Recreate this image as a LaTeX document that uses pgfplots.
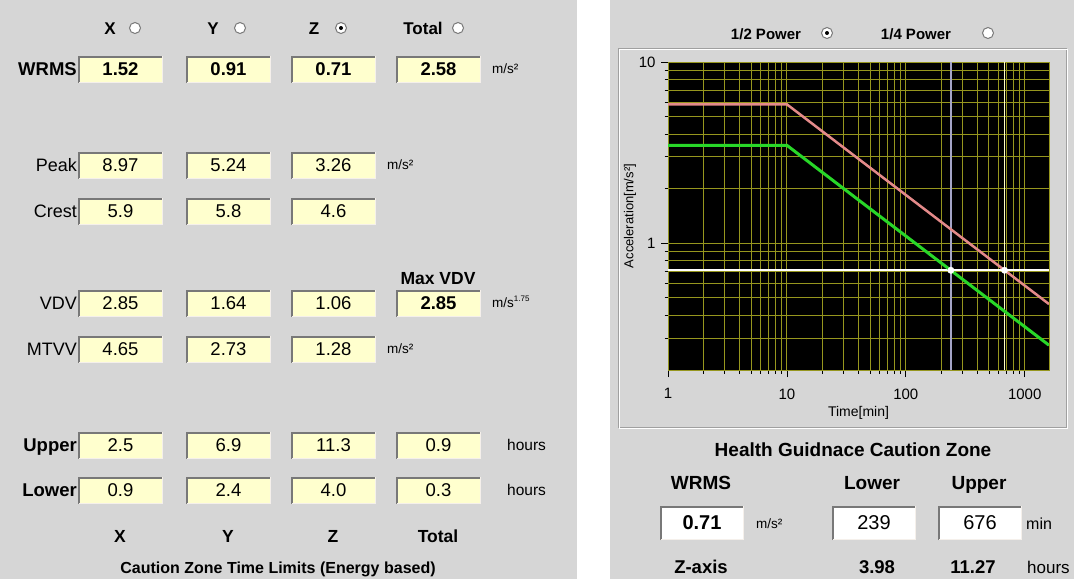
\documentclass[border=0pt]{standalone}
\usepackage{fontspec}
\setmainfont{Liberation Sans}
\usepackage{pgfplots}
\pgfplotsset{compat=1.18}
\definecolor{panel}{RGB}{214,214,214}
\definecolor{boxyellow}{RGB}{255,255,206}
\definecolor{boxdark}{RGB}{120,120,120}
\definecolor{boxlight}{RGB}{245,240,235}
\definecolor{gridc}{RGB}{150,150,30}
\definecolor{pinkc}{RGB}{228,138,138}
\definecolor{greenc}{RGB}{40,215,40}
\definecolor{lavc}{RGB}{165,165,200}
\definecolor{lyel}{RGB}{255,255,200}
\newcommand\fs[1]{\fontsize{#1}{#1}\selectfont}
% value box: #1 left x, #2 centre y, #3 width, #4 height, #5 fill, #6 text
\newcommand\valbox[6]{%
  \fill[#5] (#1,{#2-#4/2}) rectangle ({#1+#3},{#2+#4/2});
  \draw[boxdark,line width=2pt] ({#1+1},{#2+#4/2}) -- ({#1+1},{#2-#4/2+1}) -- ({#1+#3},{#2-#4/2+1});
  \draw[boxlight,line width=1pt] ({#1+0.5},{#2+#4/2-0.5}) -- ({#1+#3-0.5},{#2+#4/2-0.5}) -- ({#1+#3-0.5},{#2-#4/2});
  \node[anchor=base,inner sep=0pt] at ({#1+#3/2},{#2+6.6}) {#6};
}
\newcommand\radio[3]{% x, y, checked(1/0)
  \fill[white] (#1,#2) circle (5.5);
  \draw[boxdark,line width=1pt] (#1,#2) circle (5.5);
  \ifnum#3=1 \fill[black] (#1,#2) circle (2);\fi
}
\begin{document}
\begin{tikzpicture}
\useasboundingbox (0,0) rectangle (1074pt,-579pt);
\clip (0,0) rectangle (1074pt,-579pt);
\fill[white] (0,0) rectangle (1074pt,-579pt);
\begin{scope}[x=1pt,y=-1pt]
  % panels
  \fill[panel] (0,0) rectangle (577,579);
  \fill[panel] (610,0) rectangle (1074,579);
  % etched frame around plot
  \draw[boxdark!70,line width=1pt] (618,48) rectangle (1066,427);
  \draw[white,line width=1pt] (619,49) rectangle (1067,428);
  % ---------- left panel ----------
  \begin{scope}[every node/.style={anchor=base,inner sep=0pt}]
    \node at (110,34) {\fs{17}\bfseries X}; \radio{135}{28}{0}
    \node at (213,34) {\fs{17}\bfseries Y}; \radio{240}{28}{0}
    \node at (314,34) {\fs{17}\bfseries Z}; \radio{341}{28}{1}
    \node at (423,34) {\fs{17}\bfseries Total}; \radio{458}{28}{0}
  \end{scope}
  \begin{scope}[every node/.style={anchor=base east,inner sep=0pt}]
    \node at (77,75.5) {\fs{18.5}\bfseries WRMS};
    \node at (77,171.5) {\fs{18}Peak};
    \node at (77,217.5) {\fs{18}Crest};
    \node at (77,309.5) {\fs{18}VDV};
    \node at (77,355.5) {\fs{18}MTVV};
    \node at (77,451.5) {\fs{18.5}\bfseries Upper};
    \node at (77,496.5) {\fs{18.5}\bfseries Lower};
  \end{scope}
  % WRMS
  \valbox{78}{69}{85}{27}{boxyellow}{\fs{18.5}\bfseries 1.52}
  \valbox{186}{69}{85}{27}{boxyellow}{\fs{18.5}\bfseries 0.91}
  \valbox{291}{69}{85}{27}{boxyellow}{\fs{18.5}\bfseries 0.71}
  \valbox{396}{69}{85}{27}{boxyellow}{\fs{18.5}\bfseries 2.58}
  % Peak
  \valbox{78}{165}{85}{27}{boxyellow}{\fs{18.5}8.97}
  \valbox{186}{165}{85}{27}{boxyellow}{\fs{18.5}5.24}
  \valbox{291}{165}{85}{27}{boxyellow}{\fs{18.5}3.26}
  % Crest
  \valbox{78}{211}{85}{27}{boxyellow}{\fs{18.5}5.9}
  \valbox{186}{211}{85}{27}{boxyellow}{\fs{18.5}5.8}
  \valbox{291}{211}{85}{27}{boxyellow}{\fs{18.5}4.6}
  % VDV
  \valbox{78}{303}{85}{27}{boxyellow}{\fs{18.5}2.85}
  \valbox{186}{303}{85}{27}{boxyellow}{\fs{18.5}1.64}
  \valbox{291}{303}{85}{27}{boxyellow}{\fs{18.5}1.06}
  \valbox{396}{303}{85}{27}{boxyellow}{\fs{18.5}\bfseries 2.85}
  % MTVV
  \valbox{78}{349}{85}{27}{boxyellow}{\fs{18.5}4.65}
  \valbox{186}{349}{85}{27}{boxyellow}{\fs{18.5}2.73}
  \valbox{291}{349}{85}{27}{boxyellow}{\fs{18.5}1.28}
  % Upper
  \valbox{78}{445}{85}{27}{boxyellow}{\fs{18.5}2.5}
  \valbox{186}{445}{85}{27}{boxyellow}{\fs{18.5}6.9}
  \valbox{291}{445}{85}{27}{boxyellow}{\fs{18.5}11.3}
  \valbox{396}{445}{85}{27}{boxyellow}{\fs{18.5}0.9}
  % Lower
  \valbox{78}{490}{85}{27}{boxyellow}{\fs{18.5}0.9}
  \valbox{186}{490}{85}{27}{boxyellow}{\fs{18.5}2.4}
  \valbox{291}{490}{85}{27}{boxyellow}{\fs{18.5}4.0}
  \valbox{396}{490}{85}{27}{boxyellow}{\fs{18.5}0.3}
  \begin{scope}[every node/.style={anchor=base west,inner sep=0pt}]
    \node at (492,73) {\fs{13.5}m/s²};
    \node at (387,169) {\fs{13.5}m/s²};
    \node at (492,307) {\fs{13.5}m/s\raisebox{0.75ex}{\fs{8}1.75}};
    \node at (387,353) {\fs{13.5}m/s²};
    \node at (507,450) {\fs{15.5}hours};
    \node at (507,495) {\fs{15.5}hours};
  \end{scope}
  \begin{scope}[every node/.style={anchor=base,inner sep=0pt}]
    \node at (438,284) {\fs{17.5}\bfseries Max VDV};
    \node at (120,542) {\fs{17.5}\bfseries X};
    \node at (228,542) {\fs{17.5}\bfseries Y};
    \node at (333,542) {\fs{17.5}\bfseries Z};
    \node at (438,542) {\fs{17.5}\bfseries Total};
    \node at (278,573) {\fs{16}\bfseries Caution Zone Time Limits (Energy based)};
  % ---------- right panel ----------
    \node at (766,39) {\fs{15}\bfseries 1/2 Power};
    \node at (916,39) {\fs{15}\bfseries 1/4 Power};
    \node at (853,456.5) {\fs{19}\bfseries Health Guidnace Caution Zone};
    \node at (701,489.5) {\fs{19}\bfseries WRMS};
    \node at (872,489.5) {\fs{19}\bfseries Lower};
    \node at (979,489.5) {\fs{19}\bfseries Upper};
    \node at (701,573.5) {\fs{18.5}\bfseries Z-axis};
    \node at (877,573.5) {\fs{18.5}\bfseries 3.98};
    \node at (973,573.5) {\fs{18.5}\bfseries 11.27};
  \end{scope}
  \radio{827}{33}{1}
  \radio{988}{33}{0}
  \valbox{660}{523}{84}{34}{white}{\fs{20}\bfseries 0.71}
  \valbox{832}{523}{84}{34}{white}{\fs{20}239}
  \valbox{938}{523}{84}{34}{white}{\fs{20}676}
  \begin{scope}[every node/.style={anchor=base west,inner sep=0pt}]
    \node at (756,528) {\fs{13.5}m/s²};
    \node at (1026,529) {\fs{16}min};
    \node at (1027,573) {\fs{17}hours};
  \end{scope}
\end{scope}
\begin{axis}[
  at={(668pt,-370pt)}, anchor=south west,
  scale only axis, width=381pt, height=308pt,
  xmode=log, ymode=log,
  xmin=1, xmax=1600, ymin=0.2, ymax=10,
  axis background/.style={fill=black},
  axis line style={gridc, line width=0.9pt},
  grid=both,
  major grid style={gridc, line width=0.9pt},
  minor grid style={gridc, line width=0.9pt},
  tick pos=left,
  tick align=outside,
  major tick length=7pt, minor tick length=3.5pt,
  tick style={black, line width=0.8pt},
  xtick={1,10,100,1000}, xticklabels={1,10,100,1000},
  ytick={1,10}, yticklabels={1,10},
  minor xtick={2,3,4,5,6,7,8,9,20,30,40,50,60,70,80,90,200,300,400,500,600,700,800,900},
  minor ytick={0.3,0.4,0.5,0.6,0.7,0.8,0.9,2,3,4,5,6,7,8,9},
  /pgf/number format/assume math mode=true,
  ticklabel style={font=\fs{15}},
  xticklabel style={yshift=-8pt},
  yticklabel style={xshift=-2pt},
  xlabel={Time[min]}, ylabel={Acceleration[m/s²]},
  xlabel style={font=\fs{14}, at={(axis description cs:0.5,-0.14)}, anchor=center},
  ylabel style={font=\fs{13}, at={(axis description cs:-0.1,0.5)}, anchor=center},
  clip=true,
]
\addplot[lavc, line width=2.5pt] coordinates {(239,0.2) (239,10)};
\addplot[lyel, line width=1.5pt] coordinates {(676,0.2) (676,10)};
\addplot[white, line width=1.8pt] coordinates {(1,0.71) (1600,0.71)};
\addplot[pinkc, line width=2.5pt] coordinates {(1,5.84) (10,5.84) (1600,0.462)};
\addplot[greenc, line width=3pt] coordinates {(1,3.47) (10,3.47) (1600,0.274)};
\addplot[only marks, mark=*, mark size=3.2pt, white] coordinates {(239,0.71) (676,0.71)};
\end{axis}
\end{tikzpicture}
\end{document}
